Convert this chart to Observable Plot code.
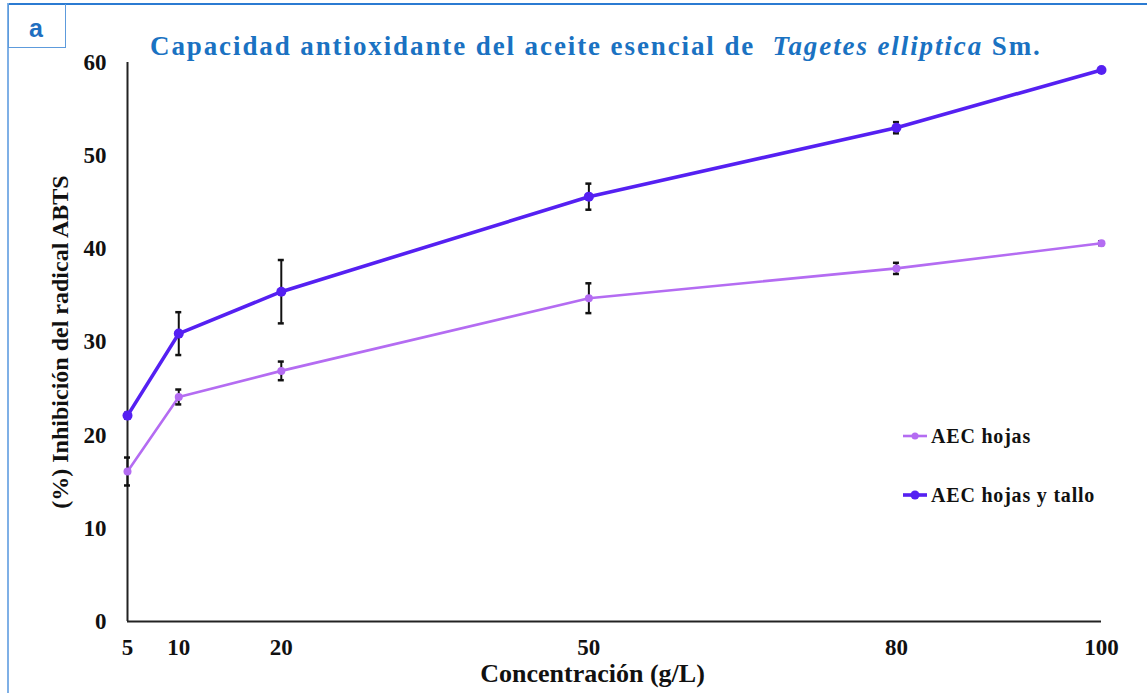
<!DOCTYPE html>
<html>
<head>
<meta charset="utf-8">
<script src="https://cdn.jsdelivr.net/npm/d3@7"></script>
<script src="https://cdn.jsdelivr.net/npm/@observablehq/plot@0.6"></script>
<style>
  html, body { margin: 0; padding: 0; background: #fff; }
  #wrap { position: relative; width: 1147px; height: 693px; overflow: hidden; background: #fff; }
  #frameTop { position: absolute; left: 8px; top: 3px; width: 1139px; height: 2px; background: #2b7bd2; }
  #frameLeft { position: absolute; left: 7px; top: 3px; width: 2px; height: 690px; background: #7fb0e6; }
  #boxA { position: absolute; left: 8px; top: 4px; width: 58px; height: 44px; border: 1px solid #5d9bdc; border-top: none;
          font-family: "Liberation Sans", Arial, sans-serif; font-weight: bold; font-size: 25px; color: #1f6fc0;
          box-sizing: border-box; padding-left: 20px; padding-top: 12px; line-height: 1; }
  #title { position: absolute; left: 150px; top: 33px; font-family: "Liberation Serif", serif; font-weight: bold;
           font-size: 27px; letter-spacing: 1.9px; color: #1a72c2; white-space: nowrap; line-height: 1; }
  #chart { position: absolute; left: 0; top: 0; }
  .leg { position: absolute; font-family: "Liberation Serif", serif; font-weight: bold; font-size: 20px; letter-spacing: 0.8px; color: #111;
         white-space: nowrap; display: flex; align-items: center; line-height: 1; }
  .leg svg { margin-right: 3px; }
</style>
</head>
<body>
<div id="wrap">
  <div id="chart"></div>
  <div id="frameTop"></div>
  <div id="frameLeft"></div>
  <div id="boxA">a</div>
  <div id="title">Capacidad antioxidante del aceite esencial de&nbsp; <i>Tagetes elliptica</i> Sm.</div>
  <div id="legend"></div>
</div>
<script>
const concentrations = [5, 10, 20, 50, 80, 100];
const seriesNames = ["AEC hojas", "AEC hojas y tallo"];
const hojas = [16.1, 24.1, 26.9, 34.7, 37.9, 40.6];
const hojasErr = [1.5, 0.8, 1.0, 1.6, 0.6, 0.2];
const hojasTallo = [22.1, 30.9, 35.4, 45.6, 53.0, 59.2];
const hojasTalloErr = [0.3, 2.3, 3.4, 1.4, 0.6, 0.2];
const yTicks = [0, 10, 20, 30, 40, 50, 60];
const xTicks = [5, 10, 20, 50, 80, 100];
const colors = {"AEC hojas": "#b46cf2", "AEC hojas y tallo": "#5520f2"};

const rows = [];
concentrations.forEach((c, i) => {
  rows.push({series: seriesNames[0], x: c, y: hojas[i], e: hojasErr[i]});
  rows.push({series: seriesNames[1], x: c, y: hojasTallo[i], e: hojasTalloErr[i]});
});
const rH = rows.filter(d => d.series === seriesNames[0]);
const rT = rows.filter(d => d.series === seriesNames[1]);

const font = "Liberation Serif, serif";
const plot = Plot.plot({
  width: 1147,
  height: 693,
  marginLeft: 127,
  marginRight: 46,
  marginTop: 62,
  marginBottom: 72,
  style: {fontFamily: font, background: "transparent", color: "#111"},
  x: {domain: [5, 100], ticks: xTicks, tickSize: 0, label: null},
  y: {domain: [0, 60], ticks: yTicks, tickSize: 0, label: null},
  marks: [
    Plot.axisX({ticks: xTicks, tickSize: 0, tickPadding: 17, fontSize: 23, fontWeight: "bold", label: null}),
    Plot.axisY({ticks: yTicks, tickSize: 0, tickPadding: 21, fontSize: 23, fontWeight: "bold", label: null}),
    Plot.ruleX([5], {stroke: "#222", strokeWidth: 2}),
    Plot.ruleY([0], {stroke: "#222", strokeWidth: 2}),
    Plot.line(rH, {x: "x", y: "y", stroke: colors[seriesNames[0]], strokeWidth: 2.6}),
    Plot.line(rT, {x: "x", y: "y", stroke: colors[seriesNames[1]], strokeWidth: 3.6}),
    Plot.ruleX(rows, {x: "x", y1: d => d.y - d.e, y2: d => d.y + d.e, stroke: "#111", strokeWidth: 2}),
    Plot.ruleY(rows, {y: d => d.y - d.e, x1: "x", x2: "x", insetLeft: -3, insetRight: -3, stroke: "#111", strokeWidth: 2.5}),
    Plot.ruleY(rows, {y: d => d.y + d.e, x1: "x", x2: "x", insetLeft: -3, insetRight: -3, stroke: "#111", strokeWidth: 2.5}),
    Plot.dot(rH, {x: "x", y: "y", r: 4, fill: colors[seriesNames[0]]}),
    Plot.dot(rT, {x: "x", y: "y", r: 5, fill: colors[seriesNames[1]]}),
    Plot.text(["(%) Inhibición del radical ABTS"], {frameAnchor: "left", textAnchor: "middle", dx: -67, rotate: -90, fontSize: 24, fontWeight: "bold", fill: "#111"}),
    Plot.text(["Concentración (g/L)"], {frameAnchor: "bottom", dx: -22, dy: 60, fontSize: 26, fontWeight: "bold", fill: "#111"})
  ]
});
document.getElementById("chart").appendChild(plot);

// legend
const legend = document.getElementById("legend");
const legTops = [425, 484];
seriesNames.forEach((name, i) => {
  const div = document.createElement("div");
  div.className = "leg";
  div.style.left = "902px";
  div.style.top = legTops[i] + "px";
  const w = i === 0 ? 2.6 : 3.6, r = i === 0 ? 3.5 : 4.5;
  div.innerHTML = `<svg width="26" height="22"><line x1="1" y1="11" x2="25" y2="11" stroke="${colors[name]}" stroke-width="${w}"/><circle cx="13" cy="11" r="${r}" fill="${colors[name]}"/></svg><span>${name}</span>`;
  legend.appendChild(div);
});
</script>
</body>
</html>
